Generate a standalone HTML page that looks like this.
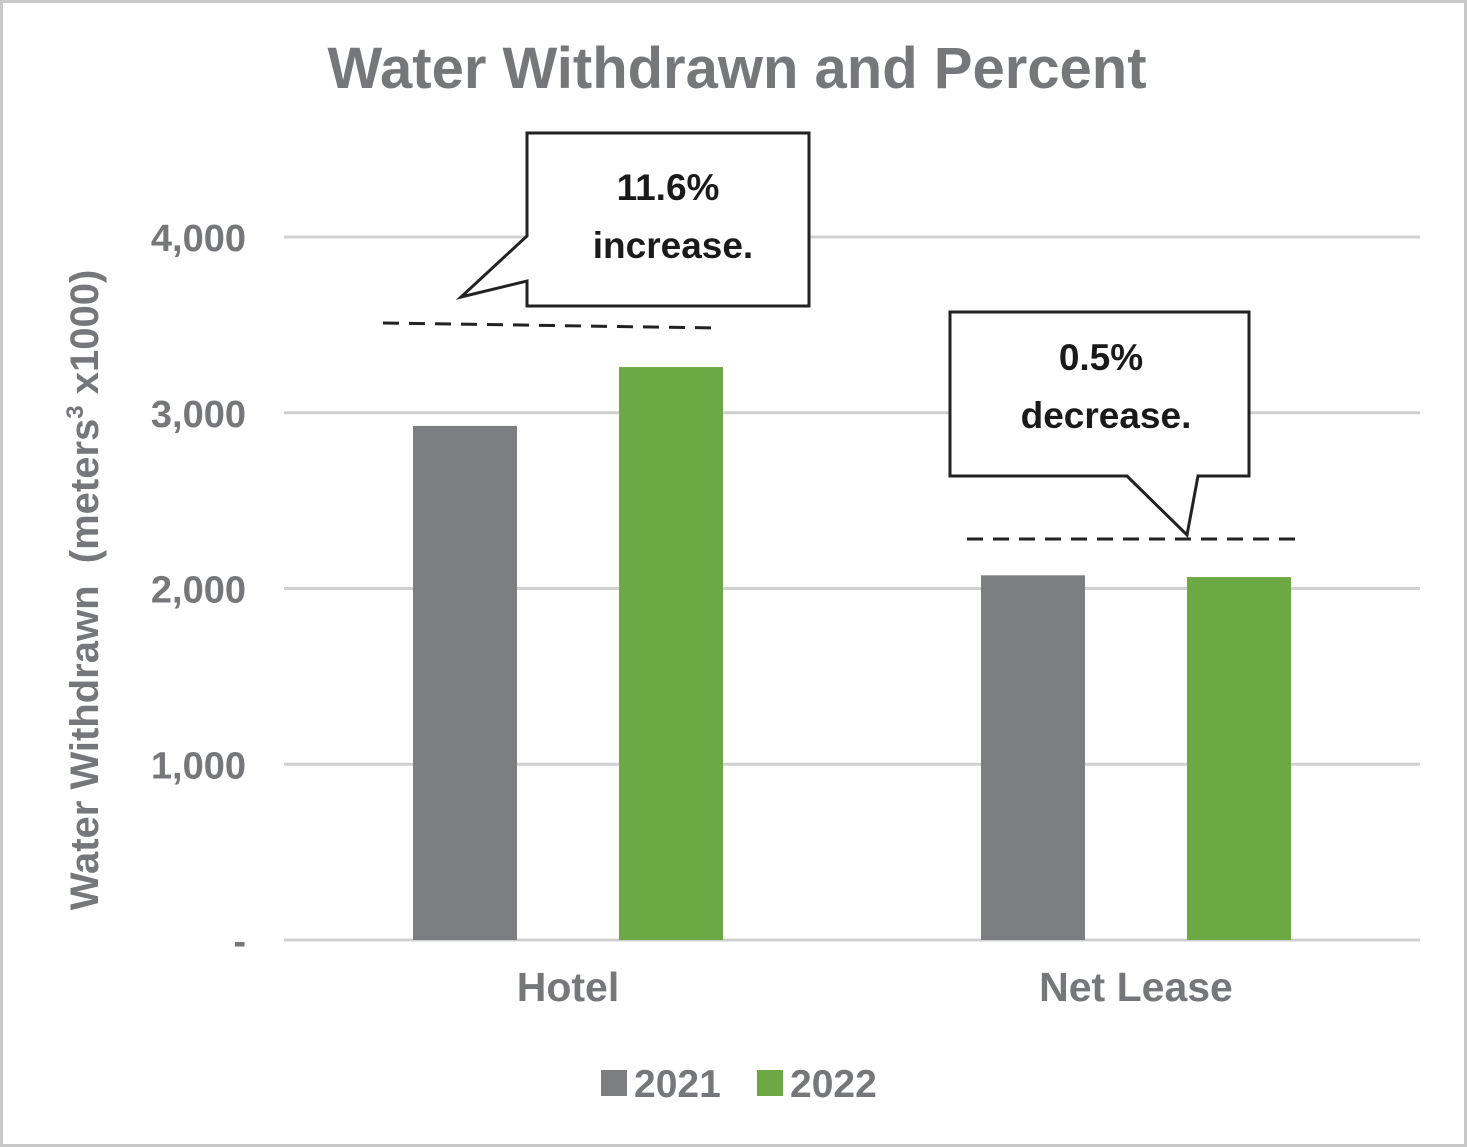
<!DOCTYPE html>
<html><head><meta charset="utf-8">
<style>
html,body{margin:0;padding:0;background:#fff;}
svg{display:block;font-family:"Liberation Sans",Arial,sans-serif;}
</style></head>
<body>
<svg id="chart" width="1467" height="1147" viewBox="0 0 1467 1147">
  <rect x="1.5" y="1.5" width="1464" height="1144" fill="#fff" stroke="#c8c8c8" stroke-width="3"/>
  <text x="737" y="88" text-anchor="middle" font-size="58" font-weight="bold" fill="#76777a">Water Withdrawn and Percent</text>
  <g id="grid"></g>
  <g id="yticks"></g>
  <g id="bars"></g>
  <g id="xlabels"></g>
  <text transform="translate(98,590) rotate(-90)" text-anchor="middle" font-size="40" font-weight="bold" fill="#76777a" style="white-space:pre" xml:space="preserve">Water Withdrawn  (meters<tspan font-size="24" dy="-15">3</tspan><tspan dy="15"> x1000)</tspan></text>

  <line x1="383" y1="323" x2="720" y2="328" stroke="#222" stroke-width="3" stroke-dasharray="16,10"/>
  <line x1="967" y1="539" x2="1298" y2="539" stroke="#222" stroke-width="3" stroke-dasharray="16,10"/>

  <path d="M527,133 L809,133 L809,306 L527,306 L527,281 L461,297 L527,236 Z" fill="#fff" stroke="#222" stroke-width="3"/>
  <text x="668" y="200" text-anchor="middle" font-size="37" font-weight="bold" fill="#1a1a1a">11.6%</text>
  <text x="673" y="258" text-anchor="middle" font-size="37" font-weight="bold" fill="#1a1a1a">increase.</text>

  <path d="M950,312 L1249,312 L1249,476 L1198,476 L1187,535 L1127,476 L950,476 Z" fill="#fff" stroke="#222" stroke-width="3"/>
  <text x="1101" y="370" text-anchor="middle" font-size="37" font-weight="bold" fill="#1a1a1a">0.5%</text>
  <text x="1106" y="428" text-anchor="middle" font-size="37" font-weight="bold" fill="#1a1a1a">decrease.</text>

  <g>
    <rect x="601" y="1070" width="26" height="26" fill="#7d7e82"/>
    <text x="634" y="1097" font-size="39" font-weight="bold" fill="#76777a">2021</text>
    <rect x="757" y="1070" width="26" height="26" fill="#6ca844"/>
    <text x="790" y="1097" font-size="39" font-weight="bold" fill="#76777a">2022</text>
  </g>
</svg>
<script>
const categories = ["Hotel", "Net Lease"];
const values2021 = [2925, 2075];
const values2022 = [3260, 2065];
const yTickValues = [0, 1000, 2000, 3000, 4000];
const yTickLabels = ["-", "1,000", "2,000", "3,000", "4,000"];

const NS = "http://www.w3.org/2000/svg";
const plotLeft = 284, plotRight = 1420, yZero = 940, yTop = 237, yMax = 4000;
const y = v => yZero - (v / yMax) * (yZero - yTop);
const catW = (plotRight - plotLeft) / categories.length;
const xCenter = i => plotLeft + catW * (i + 0.5);
const barW = 104, gapHalf = 103;

function mk(tag, attrs) { const e = document.createElementNS(NS, tag); for (const k in attrs) e.setAttribute(k, attrs[k]); return e; }

const grid = document.getElementById("grid");
const yt = document.getElementById("yticks");
yTickValues.forEach((v, i) => {
  const ln = mk("line", {x1: plotLeft, x2: plotRight, y1: y(v), y2: y(v), stroke: "#d0d0d0", "stroke-width": 3});
  
  
  grid.appendChild(ln);
  const t = mk("text", {x: 246, y: y(v) + 14, "text-anchor": "end", "font-size": 38, "font-weight": "bold", fill: "#76777a"});
  t.textContent = yTickLabels[i];
  
  
  yt.appendChild(t);
});

const bars = document.getElementById("bars");
const xl = document.getElementById("xlabels");
categories.forEach((c, i) => {
  const cx = xCenter(i);
  const b1 = mk("rect", {x: cx - gapHalf - barW / 2, y: y(values2021[i]), width: barW, height: yZero - y(values2021[i]), fill: "#7d7e82"});
  
  
  bars.appendChild(b1);
  const b2 = mk("rect", {x: cx + gapHalf - barW / 2, y: y(values2022[i]), width: barW, height: yZero - y(values2022[i]), fill: "#6ca844"});
  
  
  bars.appendChild(b2);
  const t = mk("text", {x: cx, y: 1001, "text-anchor": "middle", "font-size": 41, "font-weight": "bold", fill: "#76777a"});
  t.textContent = c;
  
  
  xl.appendChild(t);
});
</script>
</body></html>
